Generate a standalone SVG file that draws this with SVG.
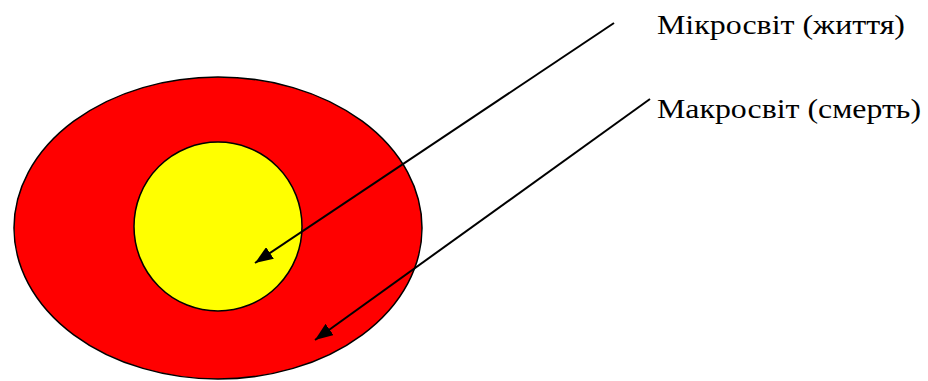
<svg xmlns="http://www.w3.org/2000/svg" width="928" height="381" viewBox="0 0 928 381">
<style>
.lbl{font-family:"Liberation Serif","Times New Roman",serif;font-size:28px;fill:#000}
.conn{stroke:#000;stroke-width:2;fill:none}
</style>
<defs>
<marker id="ah" markerUnits="userSpaceOnUse" markerWidth="20" markerHeight="14" refX="18" refY="7" orient="auto">
<path d="M0,0 L18,7 L0,14 Z" fill="#000"/>
</marker>
</defs>
<rect width="928" height="381" fill="#fff"/>
<g id="macro">
<ellipse cx="218" cy="228" rx="204" ry="151" fill="#ff0000" stroke="#000" stroke-width="1.5"/>
</g>
<g id="micro">
<ellipse cx="218" cy="226.5" rx="84" ry="84.5" fill="#ffff00" stroke="#000" stroke-width="1.5"/>
</g>
<g id="label-micro">
<text class="lbl" x="657" y="34" textLength="248" lengthAdjust="spacingAndGlyphs">Мікросвіт (життя)</text>
</g>
<g id="label-macro">
<text class="lbl" x="657" y="118" textLength="264" lengthAdjust="spacingAndGlyphs">Макросвіт (смерть)</text>
</g>
<g id="connectors">
<line class="conn" x1="614" y1="23" x2="255" y2="263" marker-end="url(#ah)"/>
<line class="conn" x1="650" y1="99" x2="315" y2="340" marker-end="url(#ah)"/>
</g>
</svg>
